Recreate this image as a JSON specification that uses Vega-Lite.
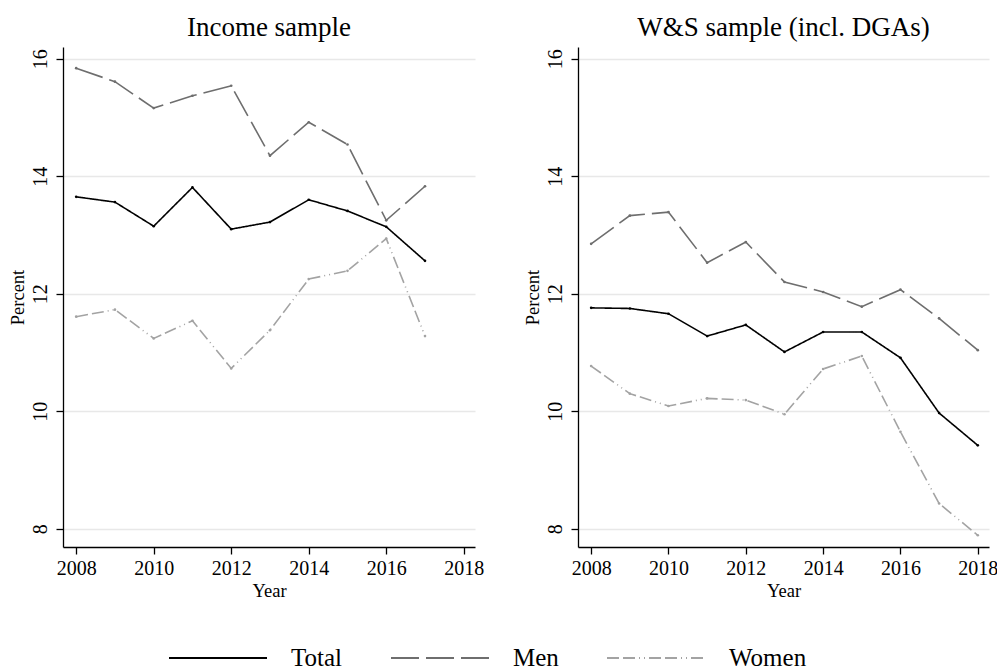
{
  "$schema": "https://vega.github.io/schema/vega-lite/v6.json",
  "background": "white",
  "padding": {"left": 7, "top": 14, "right": 5, "bottom": 5},
  "datasets": {
    "rates": [
      {"sample": "Income sample", "series": "Total", "year": 2008, "pct": 13.65},
      {"sample": "Income sample", "series": "Total", "year": 2009, "pct": 13.56},
      {"sample": "Income sample", "series": "Total", "year": 2010, "pct": 13.15},
      {"sample": "Income sample", "series": "Total", "year": 2011, "pct": 13.81},
      {"sample": "Income sample", "series": "Total", "year": 2012, "pct": 13.10},
      {"sample": "Income sample", "series": "Total", "year": 2013, "pct": 13.22},
      {"sample": "Income sample", "series": "Total", "year": 2014, "pct": 13.60},
      {"sample": "Income sample", "series": "Total", "year": 2015, "pct": 13.41},
      {"sample": "Income sample", "series": "Total", "year": 2016, "pct": 13.14},
      {"sample": "Income sample", "series": "Total", "year": 2017, "pct": 12.56},
      {"sample": "Income sample", "series": "Men", "year": 2008, "pct": 15.84},
      {"sample": "Income sample", "series": "Men", "year": 2009, "pct": 15.61},
      {"sample": "Income sample", "series": "Men", "year": 2010, "pct": 15.16},
      {"sample": "Income sample", "series": "Men", "year": 2011, "pct": 15.37},
      {"sample": "Income sample", "series": "Men", "year": 2012, "pct": 15.54},
      {"sample": "Income sample", "series": "Men", "year": 2013, "pct": 14.35},
      {"sample": "Income sample", "series": "Men", "year": 2014, "pct": 14.92},
      {"sample": "Income sample", "series": "Men", "year": 2015, "pct": 14.54},
      {"sample": "Income sample", "series": "Men", "year": 2016, "pct": 13.25},
      {"sample": "Income sample", "series": "Men", "year": 2017, "pct": 13.83},
      {"sample": "Income sample", "series": "Women", "year": 2008, "pct": 11.61},
      {"sample": "Income sample", "series": "Women", "year": 2009, "pct": 11.73},
      {"sample": "Income sample", "series": "Women", "year": 2010, "pct": 11.24},
      {"sample": "Income sample", "series": "Women", "year": 2011, "pct": 11.54},
      {"sample": "Income sample", "series": "Women", "year": 2012, "pct": 10.73},
      {"sample": "Income sample", "series": "Women", "year": 2013, "pct": 11.38},
      {"sample": "Income sample", "series": "Women", "year": 2014, "pct": 12.25},
      {"sample": "Income sample", "series": "Women", "year": 2015, "pct": 12.39},
      {"sample": "Income sample", "series": "Women", "year": 2016, "pct": 12.94},
      {"sample": "Income sample", "series": "Women", "year": 2017, "pct": 11.28},
      {"sample": "W&S", "series": "Total", "year": 2008, "pct": 11.76},
      {"sample": "W&S", "series": "Total", "year": 2009, "pct": 11.75},
      {"sample": "W&S", "series": "Total", "year": 2010, "pct": 11.66},
      {"sample": "W&S", "series": "Total", "year": 2011, "pct": 11.28},
      {"sample": "W&S", "series": "Total", "year": 2012, "pct": 11.47},
      {"sample": "W&S", "series": "Total", "year": 2013, "pct": 11.01},
      {"sample": "W&S", "series": "Total", "year": 2014, "pct": 11.35},
      {"sample": "W&S", "series": "Total", "year": 2015, "pct": 11.35},
      {"sample": "W&S", "series": "Total", "year": 2016, "pct": 10.91},
      {"sample": "W&S", "series": "Total", "year": 2017, "pct": 9.97},
      {"sample": "W&S", "series": "Total", "year": 2018, "pct": 9.42},
      {"sample": "W&S", "series": "Men", "year": 2008, "pct": 12.85},
      {"sample": "W&S", "series": "Men", "year": 2009, "pct": 13.33},
      {"sample": "W&S", "series": "Men", "year": 2010, "pct": 13.39},
      {"sample": "W&S", "series": "Men", "year": 2011, "pct": 12.53},
      {"sample": "W&S", "series": "Men", "year": 2012, "pct": 12.88},
      {"sample": "W&S", "series": "Men", "year": 2013, "pct": 12.20},
      {"sample": "W&S", "series": "Men", "year": 2014, "pct": 12.03},
      {"sample": "W&S", "series": "Men", "year": 2015, "pct": 11.78},
      {"sample": "W&S", "series": "Men", "year": 2016, "pct": 12.07},
      {"sample": "W&S", "series": "Men", "year": 2017, "pct": 11.58},
      {"sample": "W&S", "series": "Men", "year": 2018, "pct": 11.04},
      {"sample": "W&S", "series": "Women", "year": 2008, "pct": 10.77},
      {"sample": "W&S", "series": "Women", "year": 2009, "pct": 10.30},
      {"sample": "W&S", "series": "Women", "year": 2010, "pct": 10.09},
      {"sample": "W&S", "series": "Women", "year": 2011, "pct": 10.22},
      {"sample": "W&S", "series": "Women", "year": 2012, "pct": 10.19},
      {"sample": "W&S", "series": "Women", "year": 2013, "pct": 9.95},
      {"sample": "W&S", "series": "Women", "year": 2014, "pct": 10.72},
      {"sample": "W&S", "series": "Women", "year": 2015, "pct": 10.94},
      {"sample": "W&S", "series": "Women", "year": 2016, "pct": 9.65},
      {"sample": "W&S", "series": "Women", "year": 2017, "pct": 8.43},
      {"sample": "W&S", "series": "Women", "year": 2018, "pct": 7.89}
    ]
  },
  "data": {"name": "rates"},
  "config": {
    "font": "Liberation Serif",
    "view": {"stroke": null},
    "title": {"font": "Liberation Serif", "fontSize": 27, "fontWeight": "normal", "color": "#000000", "anchor": "middle", "baseline": "alphabetic", "offset": 5},
    "axis": {
      "labelFont": "Liberation Serif",
      "titleFont": "Liberation Serif",
      "labelColor": "#000000",
      "titleColor": "#000000",
      "titleFontWeight": "normal",
      "domainColor": "#000000",
      "tickColor": "#000000",
      "domainWidth": 1.3,
      "tickWidth": 1.3,
      "tickSize": 7,
      "labelFontSize": 20,
      "titleFontSize": 18.5
    },
    "legend": {
      "orient": "none",
      "direction": "horizontal",
      "columns": 3,
      "title": null,
      "symbolType": "stroke",
      "symbolSize": 9604,
      "symbolStrokeWidth": 2,
      "labelFont": "Liberation Serif",
      "labelFontSize": 25,
      "labelColor": "#000000",
      "labelOffset": 23,
      "columnPadding": 44,
      "labelLimit": 300
    }
  },
  "spacing": 38,
  "hconcat": [
    {
      "title": "Income sample",
      "width": 412,
      "height": 500,
      "transform": [{"filter": "datum.sample === 'Income sample'"}],
      "encoding": {
        "x": {
          "field": "year", "type": "quantitative",
          "scale": {"domain": [2007.66, 2018.29], "nice": false, "zero": false},
          "axis": {"title": "Year", "values": [2008, 2010, 2012, 2014, 2016, 2018], "format": "d", "grid": false, "labelPadding": 4, "titlePadding": 3}
        },
        "y": {
          "field": "pct", "type": "quantitative",
          "scale": {"domain": [7.69, 16.2], "nice": false, "zero": false},
          "axis": {"title": "Percent", "values": [8, 10, 12, 14, 16], "grid": true, "gridColor": "#e8e8e8", "gridWidth": 1.5, "labelAngle": 270, "labelAlign": "center", "labelBaseline": "alphabetic", "labelPadding": 10, "titleBaseline": "alphabetic", "titlePadding": 7}
        },
        "color": {
          "field": "series", "type": "nominal",
          "scale": {"domain": ["Total", "Men", "Women"], "range": ["#000000", "#6e6e6e", "#a3a3a3"]},
          "legend": {"legendX": 105, "legendY": 561}
        },
        "strokeDash": {
          "field": "series", "type": "nominal",
          "scale": {"domain": ["Total", "Men", "Women"], "range": [[1, 0], [28, 7], [12, 4, 12, 4, 1, 4, 1, 4]]},
          "legend": {"legendX": 105, "legendY": 561}
        }
      },
      "mark": {"type": "line", "strokeWidth": 1.6, "point": {"filled": true, "size": 7}}
    },
    {
      "title": "W&S sample (incl. DGAs)",
      "width": 411,
      "height": 500,
      "transform": [{"filter": "datum.sample === 'W&S'"}],
      "encoding": {
        "x": {
          "field": "year", "type": "quantitative",
          "scale": {"domain": [2007.66, 2018.29], "nice": false, "zero": false},
          "axis": {"title": "Year", "values": [2008, 2010, 2012, 2014, 2016, 2018], "format": "d", "grid": false, "labelPadding": 4, "titlePadding": 3}
        },
        "y": {
          "field": "pct", "type": "quantitative",
          "scale": {"domain": [7.69, 16.2], "nice": false, "zero": false},
          "axis": {"title": "Percent", "values": [8, 10, 12, 14, 16], "grid": true, "gridColor": "#e8e8e8", "gridWidth": 1.5, "labelAngle": 270, "labelAlign": "center", "labelBaseline": "alphabetic", "labelPadding": 10, "titleBaseline": "alphabetic", "titlePadding": 7}
        },
        "color": {
          "field": "series", "type": "nominal",
          "scale": {"domain": ["Total", "Men", "Women"], "range": ["#000000", "#6e6e6e", "#a3a3a3"]},
          "legend": {"legendX": 105, "legendY": 561}
        },
        "strokeDash": {
          "field": "series", "type": "nominal",
          "scale": {"domain": ["Total", "Men", "Women"], "range": [[1, 0], [28, 7], [12, 4, 12, 4, 1, 4, 1, 4]]},
          "legend": {"legendX": 105, "legendY": 561}
        }
      },
      "mark": {"type": "line", "strokeWidth": 1.6, "point": {"filled": true, "size": 7}}
    }
  ]
}
